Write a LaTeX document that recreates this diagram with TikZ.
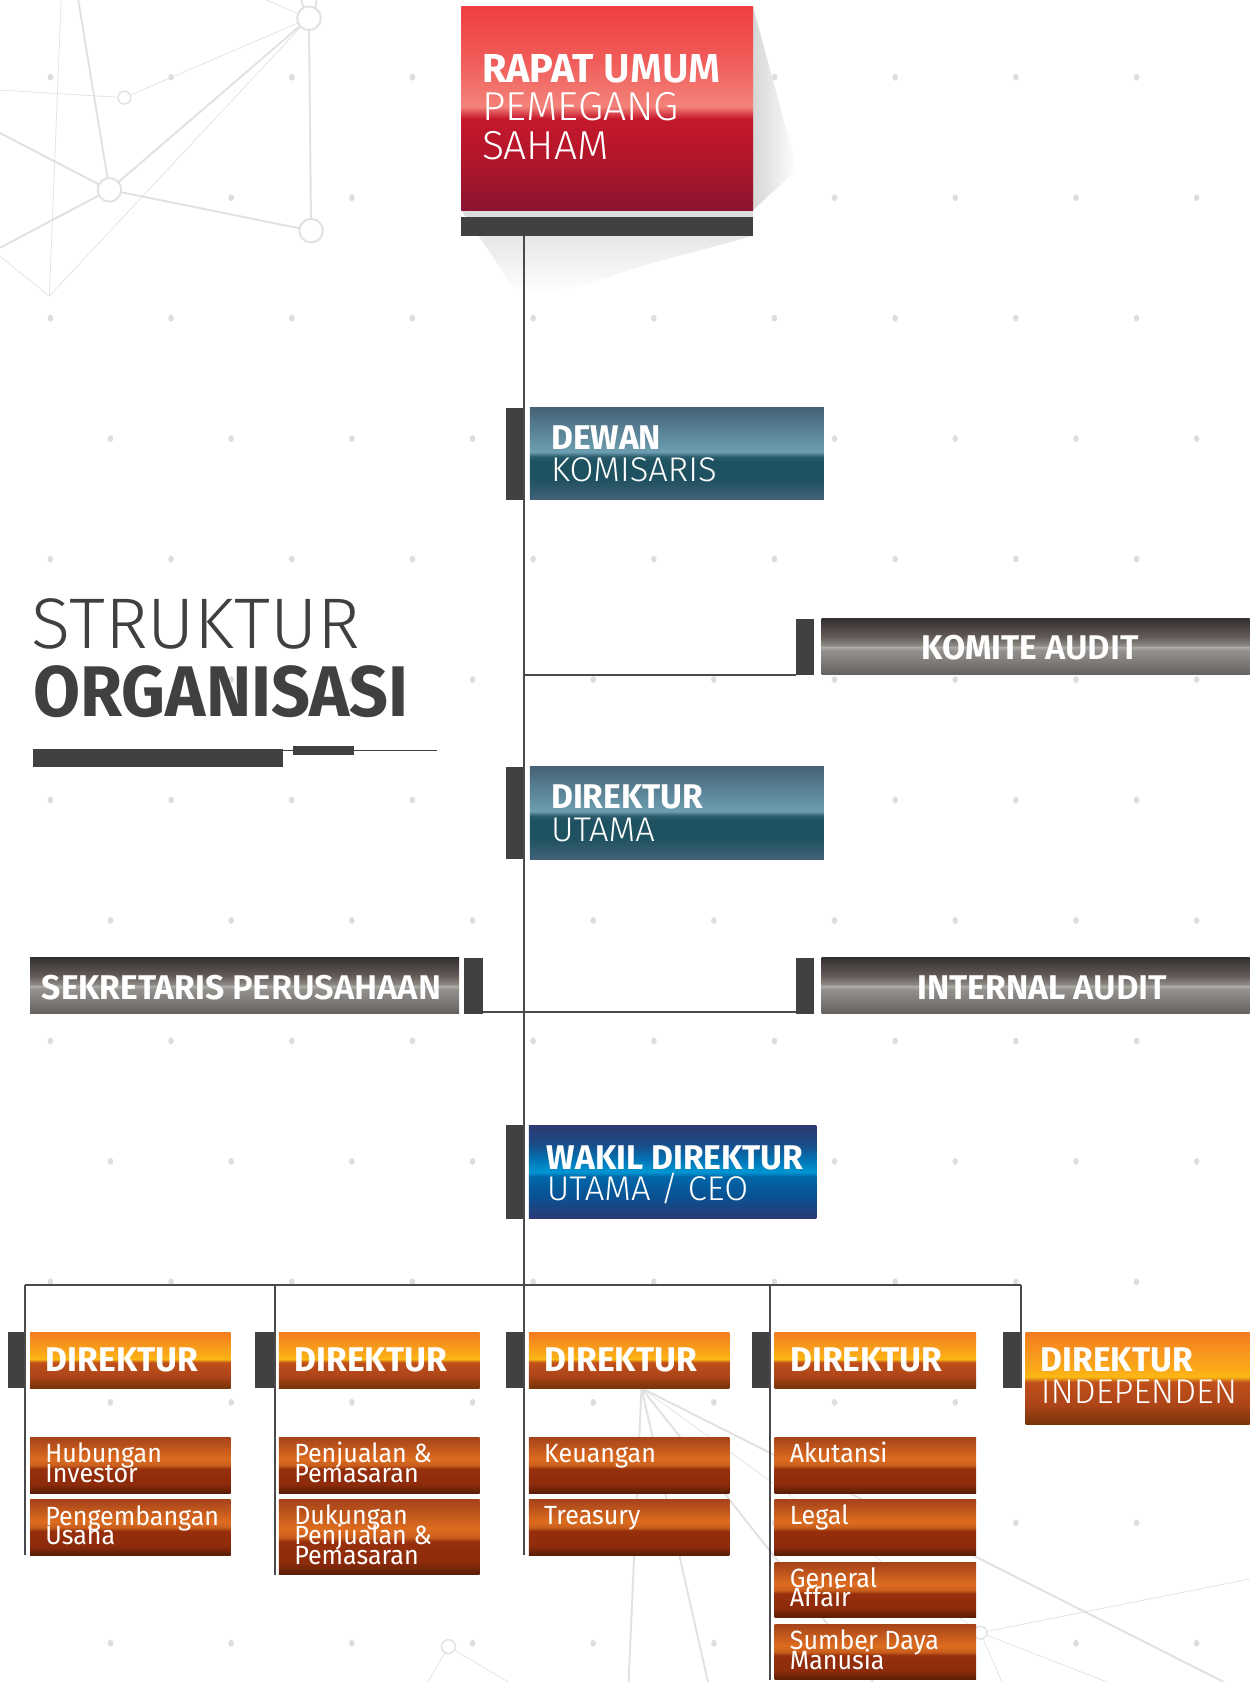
\documentclass[tikz,border=0pt]{standalone}
\usepackage{fontspec}
\setmainfont[UprightFeatures={FakeStretch=0.95}, BoldFeatures={FakeStretch=0.98}]{Fira Sans}
\newfontfamily\lightfont[FakeStretch=1.01]{Fira Sans Light}
\newfontfamily\titlefont[UprightFeatures={FakeStretch=0.95}, BoldFeatures={FakeStretch=0.95}]{Fira Sans}

\newlength{\pxu}
\setlength{\pxu}{0.02146cm}

\definecolor{bardark}{HTML}{414042}
\definecolor{linegray}{HTML}{4A4A4C}
\definecolor{dotgray}{HTML}{DDDDDE}
\definecolor{netgray}{HTML}{E1E1E2}
\definecolor{titlegray}{HTML}{404042}

\definecolor{rdA}{HTML}{EF3F42}\definecolor{rdB}{HTML}{F05B58}\definecolor{rdC}{HTML}{F3837A}
\definecolor{rdD}{HTML}{C5182C}\definecolor{rdE}{HTML}{B3162B}\definecolor{rdF}{HTML}{8A1530}
\definecolor{tlA}{HTML}{466377}\definecolor{tlB}{HTML}{6C9EB1}\definecolor{tlC}{HTML}{2A5C6B}
\definecolor{tlD}{HTML}{1F5260}\definecolor{tlE}{HTML}{42627A}
\definecolor{gyA}{HTML}{353031}\definecolor{gyB}{HTML}{635B57}\definecolor{gyC}{HTML}{8F8B87}
\definecolor{gyD}{HTML}{B0AFAB}\definecolor{gyE}{HTML}{95928E}\definecolor{gyF}{HTML}{65605E}
\definecolor{blA}{HTML}{2F3870}\definecolor{blB}{HTML}{1A4C88}\definecolor{blC}{HTML}{0077B8}
\definecolor{blD}{HTML}{0096D3}\definecolor{blE}{HTML}{0066A8}\definecolor{blF}{HTML}{0A5192}
\definecolor{blG}{HTML}{2C3976}
\definecolor{ohA}{HTML}{F37C21}\definecolor{ohB}{HTML}{FBAE17}\definecolor{ohC}{HTML}{FDBA13}
\definecolor{ohD}{HTML}{C04F1B}\definecolor{ohE}{HTML}{AD4519}\definecolor{ohF}{HTML}{763408}
\definecolor{osA}{HTML}{A6431A}\definecolor{osB}{HTML}{DD6C1F}\definecolor{osC}{HTML}{C85E1D}
\definecolor{osD}{HTML}{972F0C}\definecolor{osE}{HTML}{8C2B0B}\definecolor{osF}{HTML}{581D06}

% 25bp = bottom edge of the box, 75bp = top edge
\pgfdeclareverticalshading{redgrad}{100bp}{color(0bp)=(rdF); color(25bp)=(rdF); color(38bp)=(rdE);
  color(47.5bp)=(rdD); color(50.5bp)=(rdC); color(62bp)=(rdB); color(75bp)=(rdA); color(100bp)=(rdA)}
\pgfdeclareverticalshading{tealgrad}{100bp}{color(0bp)=(tlE); color(25bp)=(tlE); color(36bp)=(tlD);
  color(46bp)=(tlD); color(48.5bp)=(tlC); color(51bp)=(tlB); color(75bp)=(tlA); color(100bp)=(tlA)}
\pgfdeclareverticalshading{graygrad}{100bp}{color(0bp)=(gyF); color(25bp)=(gyF); color(47bp)=(gyE);
  color(50bp)=(gyD); color(51bp)=(gyC); color(59bp)=(gyB); color(75bp)=(gyA); color(100bp)=(gyA)}
\pgfdeclareverticalshading{bluegrad}{100bp}{color(0bp)=(blG); color(25bp)=(blG); color(36.5bp)=(blF);
  color(47.5bp)=(blE); color(50bp)=(blD); color(56bp)=(blC); color(65bp)=(blB); color(75bp)=(blA); color(100bp)=(blA)}
\pgfdeclareverticalshading{headgrad}{100bp}{color(0bp)=(ohF); color(25bp)=(ohF); color(36bp)=(ohE);
  color(48bp)=(ohD); color(51bp)=(ohC); color(53.5bp)=(ohB); color(75bp)=(ohA); color(100bp)=(ohA)}
\pgfdeclareverticalshading{subgrad}{100bp}{color(0bp)=(osF); color(25bp)=(osF); color(33bp)=(osE);
  color(47bp)=(osD); color(50bp)=(osC); color(55.5bp)=(osB); color(75bp)=(osA); color(100bp)=(osA)}

\tikzstyle{box} = [anchor=north west, inner sep=0pt, outer sep=0pt, shade]
\tikzstyle{redbox} = [box, shading=redgrad]
\tikzstyle{tealbox} = [box, shading=tealgrad, minimum width=274\pxu, minimum height=86\pxu]
\tikzstyle{graybox} = [box, shading=graygrad, minimum height=52\pxu]
\tikzstyle{bluebox} = [box, shading=bluegrad]
\tikzstyle{headbox} = [box, shading=headgrad, minimum width=187\pxu, minimum height=52\pxu]
\tikzstyle{subbox} = [box, shading=subgrad, minimum width=187\pxu, minimum height=52\pxu]
\tikzstyle{tab} = [anchor=north west, inner sep=0pt, outer sep=0pt, fill=bardark, minimum width=17\pxu]
\tikzstyle{lbl} = [anchor=base west, inner sep=0pt, text=white]
\tikzstyle{rupstxt} = [lbl, font=\fontsize{23}{23}\selectfont]
\tikzstyle{headtxt} = [lbl, font=\fontsize{19.5}{20}\selectfont]
\tikzstyle{subtxt} = [lbl, font=\fontsize{15}{15}\selectfont]
\tikzstyle{titletxt} = [anchor=base west, inner sep=0pt, text=titlegray, font=\fontsize{40.8}{41}\selectfont]
\tikzstyle{conn} = [draw=linegray, line width=1.2pt]
\tikzstyle{net} = [draw=netgray, line width=1.1pt]
\tikzstyle{netthin} = [draw=netgray, line width=0.4pt]

\begin{document}
\begin{tikzpicture}[x=\pxu, y=-\pxu]
\useasboundingbox (0,0) rectangle (1165,1568);

% dotted grid in the background
\foreach \r in {0,...,13}{
  \pgfmathsetmacro{\dy}{72+112.3*\r}
  \pgfmathsetmacro{\dx}{mod(\r,2)==0 ? 47 : 103}
  \foreach \c in {0,...,10}
    \fill[dotgray] (\dx+112.5*\c,\dy) ellipse (2.6 and 3.2);
}

% network lines
\draw[net] (288,17) -- (102,177) -- (290,215) -- cycle;
\draw[net] (102,177) -- (0,124);
\draw[net] (102,177) -- (0,231);
\draw[net] (102,177) -- (73,0);
\draw[net] (283,8) -- (281,0);
\draw[net] (294,8) -- (295,0);
\draw[netthin] (288,17) -- (116,91) -- (0,84);
\draw[netthin] (288,17) -- (46,276) -- (57,0);
\draw[netthin] (46,276) -- (0,239);
\draw[netthin] (288,17) -- (248,0);
\draw[net, fill=white] (288,17) circle (11);
\draw[net, fill=white] (102,177) circle (11);
\draw[net, fill=white] (290,215) circle (11);
\draw[netthin, line width=0.8pt, fill=white] (116,91) circle (6);

\draw[net] (598,1294) -- (1141,1568);
\draw[net] (598,1294) -- (814,1568);
\draw[net] (598,1294) -- (660,1568);
\draw[net] (598,1294) -- (586,1568);
\draw[netthin] (598,1294) -- (914,1522);
\draw[netthin] (914,1522) -- (1165,1472);
\draw[netthin] (914,1522) -- (1032,1568);
\draw[netthin] (914,1522) -- (934,1568);
\draw[netthin] (418,1535) -- (399,1568);
\draw[netthin] (418,1535) -- (474,1568);
\draw[netthin, line width=0.8pt, fill=white] (914,1522) circle (6);
\draw[netthin, line width=0.8pt, fill=white] (418,1535) circle (6.5);

% shadow of the top box
\shade[left color=black!16, right color=white] (702,6) -- (743,158) -- (702,196) -- cycle;
\shade[top color=black!14, bottom color=white] (430,196) -- (482,273) -- (521,273) -- (609,245) -- (702,220) -- (702,196) -- cycle;

% title
\node[titletxt] (struktur) at (29.5,605) {\lightfont STRUKTUR};
\node[titletxt] (organisasi) at (31,668) {\titlefont\bfseries ORGANISASI};
\fill[bardark] (31,698) rectangle (264,715);
\fill[bardark] (273,695) rectangle (330,703.5);
\draw[bardark, line width=0.8pt] (264,699.6) -- (407,699.6);

% boxes
\node[redbox, minimum width=272\pxu, minimum height=190\pxu] (rups) at (430,6) {};
\node[tab, minimum width=272\pxu, minimum height=18\pxu] (rups_bar) at (430,202) {};

\node[tab, minimum height=86\pxu] (dewan_tab) at (472,380) {};
\node[tealbox] (dewan) at (494,380) {};

\node[tab, minimum height=52\pxu] (komite_tab) at (742,577) {};
\node[graybox, minimum width=399\pxu] (komite) at (766,577) {};

\node[tab, minimum height=86\pxu] (dirut_tab) at (472,715) {};
\node[tealbox] (dirut) at (494,715) {};

\node[graybox, minimum width=400\pxu] (sekper) at (28,893) {};
\node[tab, minimum height=52\pxu] (sekper_tab) at (433,893) {};
\node[tab, minimum height=52\pxu] (ia_tab) at (742,893) {};
\node[graybox, minimum width=399\pxu] (ia) at (766,893) {};

\node[tab, minimum height=87\pxu] (wadir_tab) at (472,1049) {};
\node[bluebox, minimum width=268\pxu, minimum height=87\pxu] (wadir) at (493,1049) {};

\node[tab, minimum height=52\pxu] (dir1_tab) at (7,1242) {};
\node[headbox] (dir1) at (28,1242) {};
\node[tab, minimum height=52\pxu, minimum width=18\pxu] (dir2_tab) at (238,1242) {};
\node[headbox] (dir2) at (260,1242) {};
\node[tab, minimum height=52\pxu] (dir3_tab) at (472,1242) {};
\node[headbox] (dir3) at (493,1242) {};
\node[tab, minimum height=52\pxu] (dir4_tab) at (701,1242) {};
\node[headbox, minimum width=188\pxu] (dir4) at (722,1242) {};
\node[tab, minimum height=52\pxu] (dir5_tab) at (935,1242) {};
\node[headbox, minimum width=209\pxu, minimum height=86\pxu] (dir5) at (956,1242) {};

\node[subbox] (hubungan) at (28,1340) {};
\node[subbox] (pengembangan) at (28,1398) {};
\node[subbox] (penjualan) at (260,1340) {};
\node[subbox, minimum height=70\pxu] (dukungan) at (260,1398) {};
\node[subbox] (keuangan) at (493,1340) {};
\node[subbox] (treasury) at (493,1398) {};
\node[subbox, minimum width=188\pxu] (akutansi) at (722,1340) {};
\node[subbox, minimum width=188\pxu] (legal) at (722,1398) {};
\node[subbox, minimum width=188\pxu, minimum height=51\pxu] (general) at (722,1457) {};
\node[subbox, minimum width=188\pxu] (sdm) at (722,1514) {};

% texts
\node[rupstxt] (rups_l1) at (449,77) {\bfseries RAPAT {\lightfont UMUM}};
\node[rupstxt] (rups_l2) at (449,112.5) {\lightfont PEMEGANG};
\node[rupstxt] (rups_l3) at (449,148.5) {\lightfont SAHAM};
\node[headtxt] (dewan_l1) at (513.5,418.7) {\bfseries DEWAN};
\node[headtxt] (dewan_l2) at (513.5,449) {\lightfont KOMISARIS};
\node[headtxt] (komite_l) at (859,614.5) {\bfseries KOMITE {\lightfont AUDIT}};
\node[headtxt] (dirut_l1) at (513.5,754) {\bfseries DIREKTUR};
\node[headtxt] (dirut_l2) at (513.5,784) {\lightfont UTAMA};
\node[headtxt] (sekper_l) at (38.7,932) {\bfseries SEKRETARIS {\lightfont PERUSAHAAN}};
\node[headtxt] (ia_l) at (855,932) {\bfseries INTERNAL {\lightfont AUDIT}};
\node[headtxt] (wadir_l1) at (509.5,1090.4) {\bfseries WAKIL DIREKTUR};
\node[headtxt] (wadir_l2) at (509.5,1119) {\lightfont UTAMA / CEO};

\node[headtxt] (dir1_l) at (42.5,1278.4) {\bfseries DIREKTUR};
\node[headtxt] (dir2_l) at (274.5,1278.4) {\bfseries DIREKTUR};
\node[headtxt] (dir3_l) at (507.5,1278.4) {\bfseries DIREKTUR};
\node[headtxt] (dir4_l) at (736.5,1278.4) {\bfseries DIREKTUR};
\node[headtxt] (dir5_l1) at (970,1278.4) {\bfseries DIREKTUR};
\node[headtxt] (dir5_l2) at (970,1308.5) {\lightfont INDEPENDEN};

\node[subtxt] (hubungan_l1) at (42,1363.8) {Hubungan};
\node[subtxt] (hubungan_l2) at (42,1381.8) {Investor};
\node[subtxt] (pengembangan_l1) at (42,1421.9) {Pengembangan};
\node[subtxt] (pengembangan_l2) at (42,1440) {Usaha};
\node[subtxt] (penjualan_l1) at (274,1363.8) {Penjualan \&};
\node[subtxt] (penjualan_l2) at (274,1381.8) {Pemasaran};
\node[subtxt] (dukungan_l1) at (274,1421.5) {Dukungan};
\node[subtxt] (dukungan_l2) at (274,1440) {Penjualan \&};
\node[subtxt] (dukungan_l3) at (274,1458.5) {Pemasaran};
\node[subtxt] (keuangan_l) at (507,1363) {Keuangan};
\node[subtxt] (treasury_l) at (507,1421.5) {Treasury};
\node[subtxt] (akutansi_l) at (736,1363) {Akutansi};
\node[subtxt] (legal_l) at (736,1421) {Legal};
\node[subtxt] (general_l1) at (736,1479.6) {General};
\node[subtxt] (general_l2) at (736,1498) {Affair};
\node[subtxt] (sdm_l1) at (736,1537.7) {Sumber Daya};
\node[subtxt] (sdm_l2) at (736,1556) {Manusia};

% connectors
\coordinate (spine_top) at (488.5,220);
\coordinate (bus_w) at (23.5,1197.5);
\coordinate (bus_e) at (951.5,1197.5);

\path[conn] (spine_top) -- (spine_top |- treasury.south);
\path[conn] (komite_tab.south west) -- (spine_top |- komite_tab.south west);
\path[conn] ([yshift=1pt]sekper_tab.south east) -- ([yshift=1pt]ia_tab.south west);
\path[conn] (bus_w) -- (bus_e);
\path[conn] (bus_w) -- (bus_w |- pengembangan.south);
\path[conn] (dir2_tab.east |- bus_w) -- (dir2_tab.east |- dukungan.south);
\path[conn] (dir4_tab.east |- bus_w) -- (dir4_tab.east |- sdm.south);
\path[conn] (bus_e) -- (bus_e |- dir5_tab.south);
\end{tikzpicture}
\end{document}
